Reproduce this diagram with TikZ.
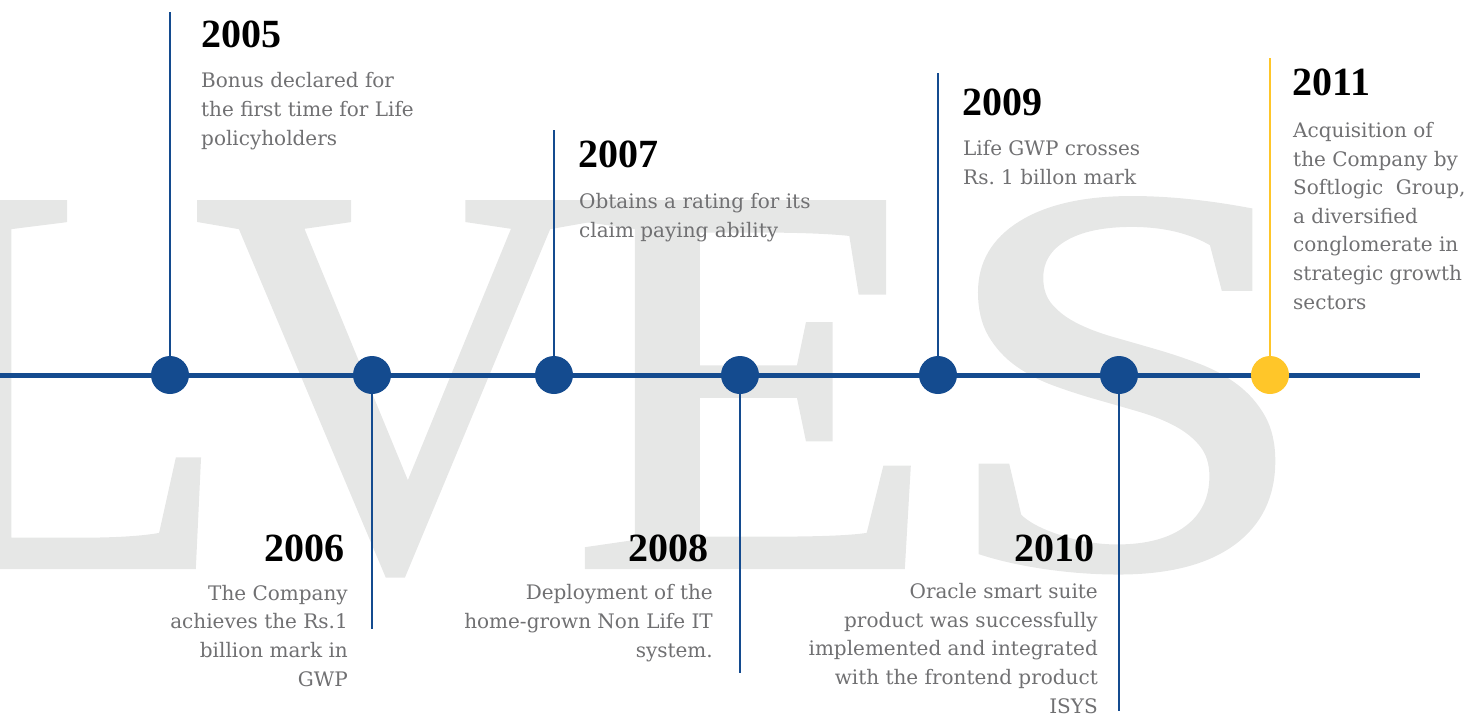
\documentclass[tikz,border=0pt]{standalone}
\usepackage{fontspec}
\setmainfont{DejaVu Serif}
\newfontfamily\yearfamily{Liberation Serif}
\newfontfamily\backfamily{Liberation Serif}[RawFeature={embolden=1.5}]

\definecolor{tlblue}{RGB}{20,75,143}
\definecolor{tlgold}{RGB}{255,198,41}
\definecolor{backgray}{RGB}{230,231,230}
\definecolor{blurbgray}{RGB}{112,112,114}

\tikzset{
	bigletter/.style={font=\backfamily\fontsize{551}{551}\selectfont, text=backgray, inner sep=0pt},
	axis/.style={tlblue, line width=5pt},
	milestone/.style={circle, fill=tlblue, minimum size=38pt, inner sep=0pt},
	stem/.style={tlblue, line width=2.6pt},
	year/.style={font=\yearfamily\bfseries\fontsize{40}{40}\selectfont, text=black, inner sep=0pt},
	blurb/.style={font=\fontsize{20}{28.6}\selectfont, text=blurbgray, inner sep=0pt},
}

\begin{document}
\begin{tikzpicture}[x=1pt,y=-1pt]
	\useasboundingbox (0,0) rectangle (1477,715);
	% backdrop letters
	\begin{scope}
		\clip (0,0) rectangle (1477,715);
		\node[bigletter, anchor=base east] (bgL) at (230,565) {L};
		\node[bigletter, anchor=base] (bgV) at (394,565) {V};
		\node[bigletter, anchor=base] (bgE) at (754,565) {\scalebox{1.08}[1]{E}};
		\node[bigletter, anchor=base] (bgS) at (1125,565) {\scalebox{1.22}[1]{S}};
	\end{scope}

	% time axis
	\coordinate (start) at (0,375);
	\coordinate (end) at (1420,375);
	\draw[axis] (start) -- (end);

	\node[milestone] (m05) at (170,375) {};
	\node[milestone] (m06) at (372,375) {};
	\node[milestone] (m07) at (554,375) {};
	\node[milestone] (m08) at (740,375) {};
	\node[milestone] (m09) at (938,375) {};
	\node[milestone] (m10) at (1119,375) {};
	\node[milestone, fill=tlgold] (m11) at (1270,375) {};

	% stems
	\coordinate (s05) at (170,12);
	\coordinate (s06) at (372,629);
	\coordinate (s07) at (554,130);
	\coordinate (s08) at (740,673);
	\coordinate (s09) at (938,73);
	\coordinate (s10) at (1119,711);
	\coordinate (s11) at (1270,58);
	\draw[stem] (m05) -- (s05);
	\draw[stem] (m06) -- (s06);
	\draw[stem] (m07) -- (s07);
	\draw[stem] (m08) -- (s08);
	\draw[stem] (m09) -- (s09);
	\draw[stem] (m10) -- (s10);
	\draw[stem, tlgold] (m11) -- (s11);

	% years above the axis (blurbs sit on their last line)
	\node[year, anchor=base west] (y05) at (201,47) {2005};
	\node[blurb, anchor=base west, align=left] (b05) at (201,145)
		{Bonus declared for\\the first time for Life\\policyholders};
	\node[year, anchor=base west] (y07) at (578,167) {2007};
	\node[blurb, anchor=base west, align=left] (b07) at (579,237)
		{Obtains a rating for its\\claim paying ability};
	\node[year, anchor=base west] (y09) at (962,115) {2009};
	\node[blurb, anchor=base west, align=left] (b09) at (963,184)
		{Life GWP crosses\\Rs.\ 1 billon mark};
	\node[year, anchor=base west] (y11) at (1292,95) {2011};
	\node[blurb, anchor=base west, align=left] (b11) at (1293,309)
		{Acquisition of\\the Company by\\Softlogic~ Group,\\a diversified\\conglomerate in\\strategic growth\\sectors};

	% years below the axis
	\node[year, anchor=base east] (y06) at (345,561) {2006};
	\node[blurb, anchor=base east, align=right] (b06) at (348,686)
		{The Company\\achieves the Rs.1\\billion mark in\\GWP};
	\node[year, anchor=base east] (y08) at (709,561) {2008};
	\node[blurb, anchor=base east, align=right] (b08) at (713,657)
		{Deployment of the\\home-grown Non Life IT\\system.};
	\node[year, anchor=base east] (y10) at (1095,561) {2010};
	\node[blurb, anchor=base east, align=right] (b10) at (1098,713)
		{Oracle smart suite\\product was successfully\\implemented and integrated\\with the frontend product\\ISYS};
\end{tikzpicture}
\end{document}
